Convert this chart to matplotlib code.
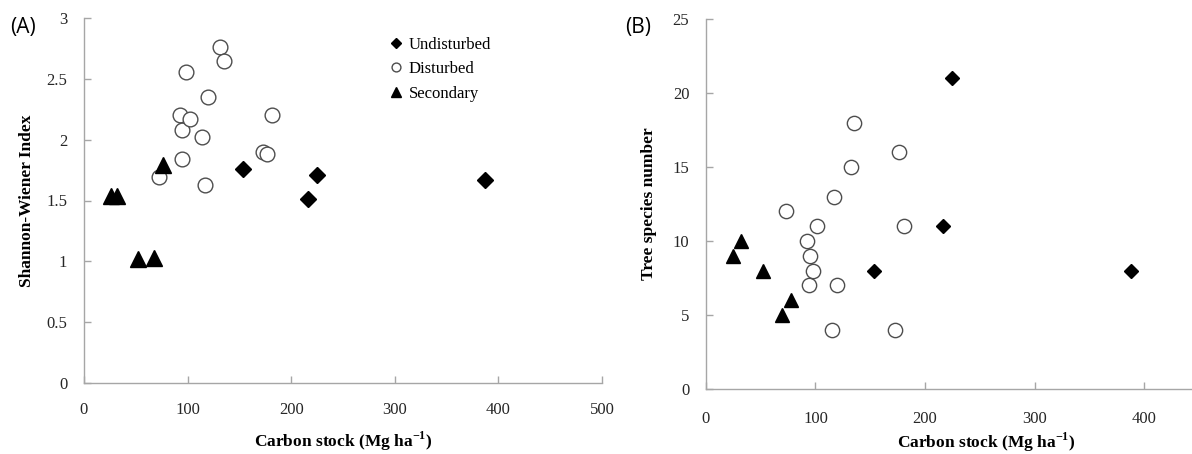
import matplotlib
matplotlib.use("Agg")
import matplotlib.pyplot as plt
import numpy as np

plt.rcParams["axes.unicode_minus"] = False

# ---- data ----
# Panel A: Shannon-Wiener index vs carbon stock
und_x_a = [153, 216, 225, 387]
und_y_a = [1.76, 1.51, 1.71, 1.665]
dis_x_a = [72.4, 92.3, 94.9, 94.9, 98.1, 101.9, 113.8, 117.0, 119.6, 131.4, 135.6, 172.4, 176.6, 181.0]
dis_y_a = [1.695, 2.20, 1.838, 2.08, 2.56, 2.167, 2.02, 1.63, 2.35, 2.76, 2.65, 1.895, 1.88, 2.20]
sec_x_a = [26.5, 31.4, 52.2, 67.3, 76.3]
sec_y_a = [1.54, 1.54, 1.02, 1.03, 1.79]

# Panel B: tree species number vs carbon stock
und_x_b = [153, 216, 225, 388]
und_y_b = [8, 11, 21, 8]
dis_x_b = [72.8, 92.0, 94.4, 95.0, 98.0, 101.1, 114.8, 117.2, 119.3, 132.1, 135.2, 172.6, 176.0, 180.8]
dis_y_b = [12, 10, 7, 9, 8, 11, 4, 13, 7, 15, 18, 4, 16, 11]
sec_x_b = [25, 31.7, 52.3, 69.1, 77.3]
sec_y_b = [9, 10, 8, 5, 6]

labels = ["Undisturbed", "Disturbed", "Secondary"]
xticks_a = [0, 100, 200, 300, 400, 500]
yticks_a = [0, 0.5, 1, 1.5, 2, 2.5, 3]
xticks_b = [0, 100, 200, 300, 400]
yticks_b = [0, 5, 10, 15, 20, 25]

W, H = 1192, 454
fig = plt.figure(figsize=(W / 100, H / 100), dpi=100)

serif = ["Liberation Serif", "DejaVu Serif"]
spine_col = "#a6a6a6"
tick_col = "#262626"
xlab = "Carbon stock (Mg ha$^{\\mathregular{-1}}$)"

def style(ax):
    for s in ["top", "right"]:
        ax.spines[s].set_visible(False)
    for s in ["left", "bottom"]:
        ax.spines[s].set_color(spine_col)
        ax.spines[s].set_linewidth(1.0)
    ax.tick_params(direction="in", length=5, width=1, color=spine_col,
                   labelsize=12, labelcolor=tick_col, pad=12)
    for lab in ax.get_xticklabels() + ax.get_yticklabels():
        lab.set_fontfamily(serif)

# ---- Panel A ----
axA = fig.add_axes([84 / W, 1 - 383 / H, (602 - 84) / W, (383 - 18) / H])
hA1, = axA.plot(und_x_a, und_y_a, ls="none", marker="D", ms=7.8, color="black")
hA2, = axA.plot(dis_x_a, dis_y_a, ls="none", marker="o", ms=10.6, mfc="white",
                mec="#4d4d4d", mew=1.0)
hA3, = axA.plot(sec_x_a, sec_y_a, ls="none", marker="^", ms=11.5, color="black")
axA.set_xlim(0, 500)
axA.set_ylim(0, 3)
axA.set_xticks(xticks_a)
axA.set_yticks(yticks_a)
axA.set_yticklabels([("%g" % v) for v in yticks_a])
style(axA)
axA.tick_params(axis="x", pad=14)
axA.set_xlabel(xlab, fontsize=12.5, fontweight="bold", family=serif)
axA.xaxis.set_label_coords(0.5, -(441 - 383) / (383 - 18))
axA.xaxis.label.set_va("center")
axA.set_ylabel("Shannon-Wiener Index", fontsize=12.5, fontweight="bold",
               family=serif)
axA.yaxis.set_label_coords(-(84 - 27) / (602 - 84), 0.5)
axA.yaxis.label.set_va("center")
fig.text(10 / W, 1 - 28 / H, "(A)", fontsize=15, family=["Open Sans", "DejaVu Sans"],
         va="center", ha="left")

leg = axA.legend([hA1, hA2, hA3], labels, loc="upper left",
                 bbox_to_anchor=(388 / W, 1 - 37 / H),
                 bbox_transform=fig.transFigure, frameon=False,
                 markerscale=0.6, handlelength=1.0, handletextpad=0.25,
                 labelspacing=0.5, borderpad=0, borderaxespad=0,
                 prop={"family": serif, "size": 12})

# ---- Panel B ----
axB = fig.add_axes([706 / W, 1 - 389 / H, (W - 706) / W, (389 - 19) / H])
axB.plot(und_x_b, und_y_b, ls="none", marker="D", ms=7.3, color="black")
axB.plot(dis_x_b, dis_y_b, ls="none", marker="o", ms=10.3, mfc="white",
         mec="#4d4d4d", mew=1.0)
axB.plot(sec_x_b, sec_y_b, ls="none", marker="^", ms=10.6, color="black")
axB.set_xlim(0, (W - 706) / 1.095)
axB.set_ylim(0, 25)
axB.set_xticks(xticks_b)
axB.set_yticks(yticks_b)
style(axB)
axB.tick_params(axis="x", pad=16)
axB.set_xlabel(xlab, fontsize=12.5, fontweight="bold", family=serif)
axB.xaxis.set_label_coords((986 - 706) / (W - 706), -(442 - 389) / (389 - 19))
axB.xaxis.label.set_va("center")
axB.set_ylabel("Tree species number", fontsize=12.5, fontweight="bold",
               family=serif)
axB.yaxis.set_label_coords(-(706 - 649) / (W - 706), 0.5)
axB.yaxis.label.set_va("center")
fig.text(625 / W, 1 - 28 / H, "(B)", fontsize=15, family=["Open Sans", "DejaVu Sans"],
         va="center", ha="left")

fig.savefig("out.png", dpi=100)
